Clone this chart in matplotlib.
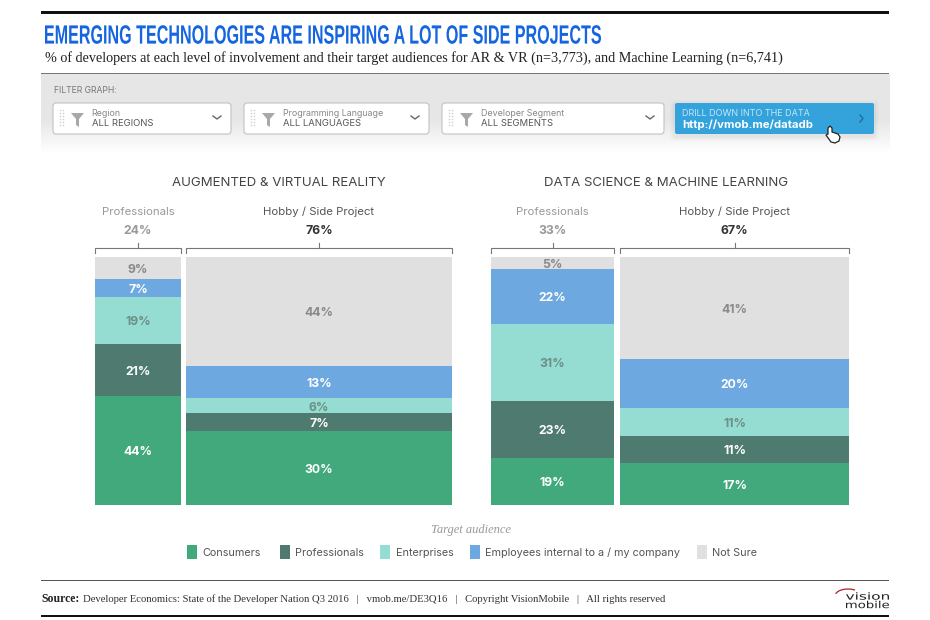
import numpy as np
import matplotlib
matplotlib.use('Agg')
import matplotlib.pyplot as plt
from matplotlib.patches import FancyBboxPatch, Rectangle, Polygon, Arc
from matplotlib.text import Text, TextPath
from matplotlib.font_manager import FontProperties
from matplotlib.transforms import Affine2D, Bbox

audiences = ['Consumers', 'Professionals', 'Enterprises', 'Employees internal to a / my company', 'Not Sure']
colors = ['#41A97C', '#4F7A6F', '#95DDD3', '#6EA8E0', '#E0E0E0']
ar_pro = [44, 21, 19, 7, 9]
ar_hobby = [30, 7, 6, 13, 44]
ml_pro = [19, 23, 31, 22, 5]
ml_hobby = [17, 11, 11, 20, 41]
panel_titles = ['AUGMENTED & VIRTUAL REALITY', 'DATA SCIENCE & MACHINE LEARNING']
shares = ['24%', '76%', '33%', '67%']

W, H = 930, 620
SANS = 'Inter'
SERIF = 'Liberation Serif'
fig = plt.figure(figsize=(W/100, H/100), dpi=100, facecolor='white')
bg = fig.add_axes([0, 0, 1, 1])
bg.set_xlim(0, W); bg.set_ylim(H, 0); bg.axis('off')


class FittedText(Text):
    """A text drawn to span a given pixel width, with its height scaled by yscale."""
    def __init__(self, x, y, s, width_px, yscale=1.0, **kw):
        super().__init__(x, y, s, **kw)
        self.width_px = width_px
        self.yscale = yscale

    def _path(self):
        fp = FontProperties(family=self.get_family(), weight=self.get_weight())
        px = self.get_fontsize() * self.figure.dpi / 72
        p = TextPath((0, 0), self.get_text(), size=px, prop=fp)
        return p, p.get_extents()

    def get_window_extent(self, renderer=None, dpi=None):
        _, e = self._path()
        x, y = self.get_transform().transform(self.get_position())
        h = e.height * self.yscale
        return Bbox.from_bounds(x, y - h/2, self.width_px, h)

    def draw(self, renderer):
        p, e = self._path()
        x, y = self.get_transform().transform(self.get_position())
        tr = (Affine2D().translate(-e.x0, -(e.y0+e.y1)/2)
              .scale(self.width_px/e.width, self.yscale).translate(x, y))
        gc = renderer.new_gc()
        gc.set_antialiased(True)
        gc.set_linewidth(0)
        renderer.draw_path(gc, p, tr, matplotlib.colors.to_rgba(self.get_color()))
        gc.restore()


def fitted(x, y, s, width_px, **kw):
    t = FittedText(x, y, s, width_px, **kw)
    t.set_transform(bg.transData)
    bg.add_artist(t)
    return t


# rules
bg.add_patch(Rectangle((41, 11), 848, 2.6, color='#111111', lw=0))
bg.add_patch(Rectangle((41, 73), 848, 1.2, color='#777777', lw=0))
bg.add_patch(Rectangle((41, 580), 848, 0.9, color='#555555', lw=0))
bg.add_patch(Rectangle((41, 615), 848, 2.2, color='#111111', lw=0))

# filter band gradient
g = np.concatenate([np.full(45, 0.90), np.linspace(0.90, 1.0, 35)]).reshape(-1, 1)
bg.imshow(g, extent=(41, 889, 154, 74), cmap='gray', vmin=0, vmax=1, aspect='auto', zorder=0.5)
bg.set_xlim(0, W); bg.set_ylim(H, 0)

fitted(45, 34.5, 'EMERGING TECHNOLOGIES ARE INSPIRING A LOT OF SIDE PROJECTS', 556, yscale=1.64,
       family='Liberation Sans', weight='bold', fontsize=11.6, color='#1565E0')
bg.text(45, 58, '% of developers at each level of involvement and their target audiences for AR & VR (n=3,773), and Machine Learning (n=6,741)',
        family=SERIF, fontsize=10.18, color='#222222', va='center', ha='left')
bg.text(54, 90.5, 'FILTER GRAPH:', family=SANS, fontsize=6.2, color='#777777', va='center')

boxes = [(53, 231, 'Region', 'ALL REGIONS'),
         (244, 429, 'Programming Language', 'ALL LANGUAGES'),
         (442, 664, 'Developer Segment', 'ALL SEGMENTS')]
for x0, x1, a, b in boxes:
    bg.add_patch(FancyBboxPatch((x0, 103), x1-x0, 31, boxstyle='round,pad=0,rounding_size=3',
                                fc='white', ec='#BBBBBB', lw=0.7, zorder=2))
    for dx in (7, 10):
        for dy in np.arange(110, 128, 3):
            bg.plot([x0+dx], [dy], 's', ms=1.0, mew=0, color='#CFCFCF', zorder=3)
    bg.add_patch(Polygon([(x0+18, 113), (x0+31, 113), (x0+26, 119), (x0+26, 127), (x0+23, 125), (x0+23, 119)],
                         fc='#A8A8A8', lw=0, zorder=3))
    bg.text(x0+38.5, 113.5, a, family=SANS, fontsize=6.4, color='#888888', va='center', zorder=3)
    bg.text(x0+38.5, 123.5, b, family=SANS, fontsize=6.8, color='#555555', va='center', zorder=3)
    bg.plot([x1-18, x1-14, x1-10], [116, 119, 116], color='#666666', lw=1, zorder=3)

for pad, al in ((5, 0.012), (3.5, 0.018), (2, 0.025)):
    bg.add_patch(FancyBboxPatch((675-pad, 103-pad+2), 199+2*pad, 31+2*pad, boxstyle='round,pad=0,rounding_size=4',
                                fc='#000000', ec='none', alpha=al, zorder=1.5))
bg.add_patch(FancyBboxPatch((675, 103), 199, 31, boxstyle='round,pad=0,rounding_size=2',
                            fc='#34A3DC', ec='none', zorder=2))
bg.text(682, 113, 'DRILL DOWN INTO THE DATA', family=SANS, fontsize=6.5, color='#C5E6F6', va='center', zorder=3)
bg.text(682, 124.5, 'http://vmob.me/datadb', family=SANS, weight='bold', fontsize=8.2, color='white', va='center', zorder=3)
bg.plot([860, 863, 860], [115, 118.5, 122], color='#1F6F9C', lw=1, zorder=3)
bg.add_patch(Polygon([(828, 128), (830, 126), (832, 128), (832, 132), (838, 134), (840, 137), (839, 141), (835, 143), (831, 142), (826, 135), (828, 134)],
                     fc='white', ec='#222222', lw=0.9, zorder=4))

cols = [(95, 181, ar_pro, 'Professionals', shares[0], True),
        (186, 452, ar_hobby, 'Hobby / Side Project', shares[1], False),
        (491, 614, ml_pro, 'Professionals', shares[2], True),
        (620, 849, ml_hobby, 'Hobby / Side Project', shares[3], False)]
for cx, t in zip((278.5, 666), panel_titles):
    bg.text(cx, 183.5, t, family=SANS, fontsize=9.5, color='#444444', ha='center', va='center')

TOP, BOT = 257, 505
for x0, x1, vals, lab, sh, muted in cols:
    ax = fig.add_axes([x0/W, 1-BOT/H, (x1-x0)/W, (BOT-TOP)/H])
    ax.set_xlim(0, 1); ax.set_ylim(0, 100); ax.axis('off')
    bottom = 0
    for i, (v, c) in enumerate(zip(vals, colors)):
        ax.bar(0.5, v, 1, bottom=bottom, color=c, lw=0)
        tc = '#8A8A8A' if i == 4 else ('#6E8F86' if i == 2 else 'white')
        ax.text(0.5, bottom+v/2-0.7, f'{v}%', ha='center', va='center', family=SANS, weight='bold',
                fontsize=8.8, color=tc)
        bottom += v
    cx = (x0+x1)/2
    bg.text(cx, 212, lab, family=SANS, fontsize=8.2, color='#999999' if muted else '#555555', ha='center', va='center')
    bg.text(cx, 230.5, sh, family=SANS, weight='bold', fontsize=8.8, color='#999999' if muted else '#333333', ha='center', va='center')
    bg.plot([x0, x0, x1, x1], [253, 248, 248, 253], color='#777777', lw=0.8)
    bg.plot([cx, cx], [248, 243], color='#777777', lw=0.8)

bg.text(471, 529.5, 'Target audience', family=SERIF, style='italic', fontsize=9, color='#999999', ha='center', va='center')
leg_x = [(187, 202), (280, 295), (380, 396), (470, 485), (697, 712)]
for (sx, tx), lab, c in zip(leg_x, audiences, colors):
    bg.add_patch(Rectangle((sx, 545), 10, 13.5, color=c, lw=0))
    bg.text(tx, 552.5, lab, family=SANS, fontsize=7.8, color='#555555', va='center')

bg.text(41, 599, 'Source:', family=SERIF, weight='bold', fontsize=8.5, color='#222222', va='center')
bg.text(83, 599, 'Developer Economics: State of the Developer Nation Q3 2016   |   vmob.me/DE3Q16   |   Copyright VisionMobile   |   All rights reserved',
        family=SERIF, fontsize=7.7, color='#333333', va='center')
fitted(846, 596, 'vision', 43, family='DejaVu Sans', fontsize=7, color='#222222')
fitted(846, 604.5, 'mobile', 43, family='DejaVu Sans', fontsize=7, color='#222222')
bg.add_patch(Arc((848, 596), 26, 14, theta1=190, theta2=320, color='#B02030', lw=0.9))

fig.savefig('out.png', dpi=100)
